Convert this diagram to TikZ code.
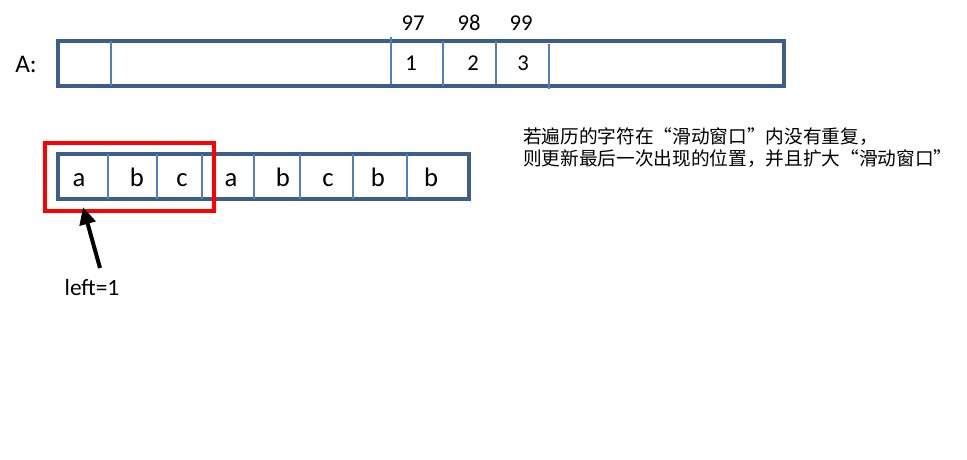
\documentclass[tikz,border=0pt]{standalone}
\usepackage{fontspec}
\setmainfont{Carlito}
\newfontfamily\cjk{Noto Sans CJK SC}
\usetikzlibrary{arrows.meta}
\definecolor{boxblue}{HTML}{3B5E8C}
\definecolor{divblue}{HTML}{4F81BD}
\begin{document}
\begin{tikzpicture}[x=0.75pt,y=-0.75pt,
  outer/.style={draw=boxblue,line width=2.3pt},
  divider/.style={draw=divblue,line width=0.8pt},
  redbox/.style={draw=red,line width=2.3pt},
  numtxt/.style={font=\fontsize{17}{20}\selectfont,inner sep=0pt,anchor=base},
  lettxt/.style={font=\fontsize{20}{24}\selectfont,inner sep=0pt,anchor=base},
  cntxt/.style={font=\cjk\fontsize{14}{16.5}\selectfont,align=left,inner sep=0pt,anchor=north west}]
\useasboundingbox (0,0) rectangle (967,460);
% Array A
\node[font=\fontsize{19}{22}\selectfont,inner sep=0pt,anchor=base] (Alabel) at (26,73) {A:};
\draw[outer] (58,41) rectangle (784,86);
\draw[divider] (111,41) -- (111,86);
\draw[divider] (391,37) -- (391,84);
\draw[divider] (443,41) -- (443,86);
\draw[divider] (496,41) -- (496,84);
\draw[divider] (549,44) -- (549,89);
\node[numtxt] (v1) at (411,70) {1};
\node[numtxt] (v2) at (473,70) {2};
\node[numtxt] (v3) at (523,70) {3};
\node[numtxt] (i97) at (413,31) {97};
\node[numtxt] (i98) at (469,31) {98};
\node[numtxt] (i99) at (521,31) {99};
% string array
\draw[outer] (58,154) rectangle (469,199);
\foreach \xx in {108,157,202,254,300,353,407}
  \draw[divider] (\xx,154) -- (\xx,199);
\node[lettxt] (c1) at (79,186) {a};
\node[lettxt] (c2) at (137,186) {b};
\node[lettxt] (c3) at (182,186) {c};
\node[lettxt] (c4) at (231,186) {a};
\node[lettxt] (c5) at (283,186) {b};
\node[lettxt] (c6) at (328,186) {c};
\node[lettxt] (c7) at (378,186) {b};
\node[lettxt] (c8) at (431,186) {b};
% sliding window
\draw[redbox] (45,143) rectangle (214,211);
% pointer
\node[font=\fontsize{17.5}{20}\selectfont,inner sep=0pt,anchor=base] (left) at (92,295) {left=1};
\coordinate (tail) at (100,268);
\coordinate (tip) at (83,207);
\draw[line width=3pt,-{Triangle[length=13pt,width=12pt]}] (tail) -- (tip);
% note
\node[cntxt] (note) at (523,127) {若遍历的字符在“滑动窗口”内没有重复，\\则更新最后一次出现的位置，并且扩大“滑动窗口”};
\end{tikzpicture}
\end{document}
